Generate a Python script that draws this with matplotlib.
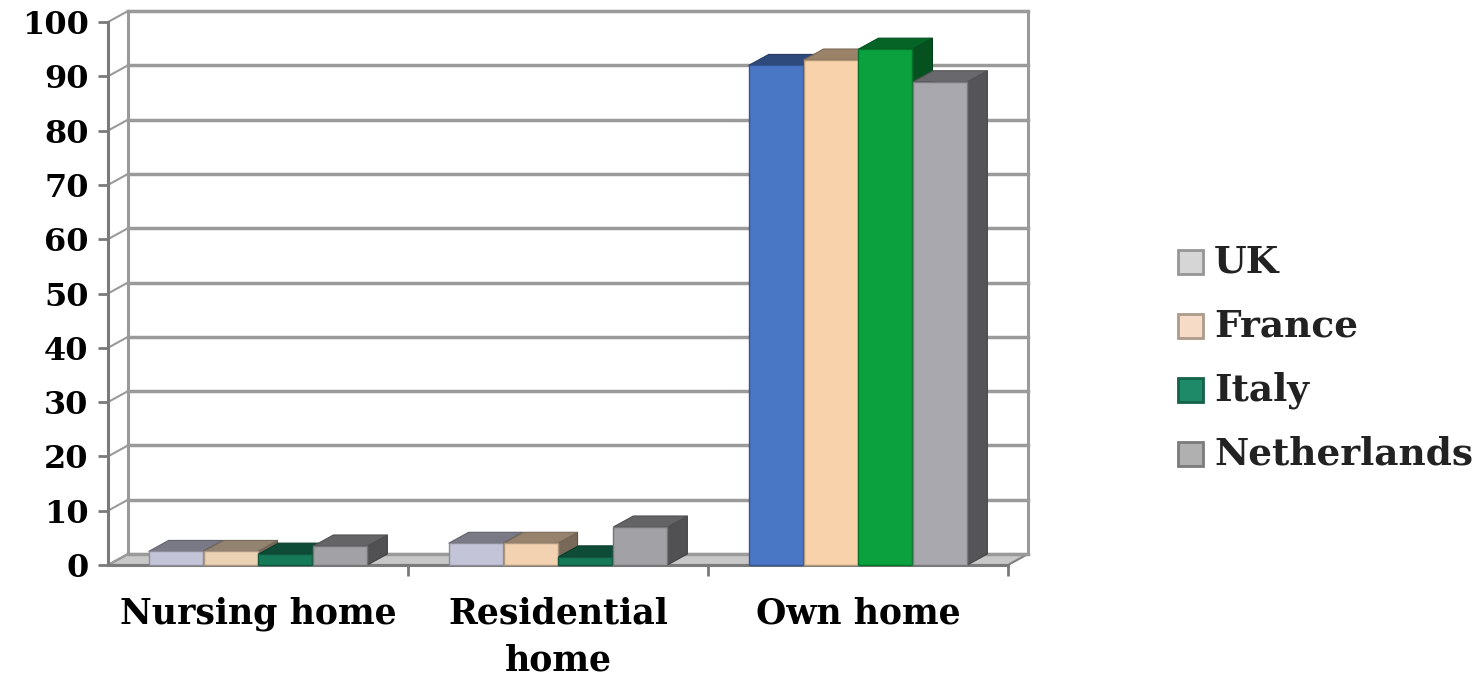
import numpy as np
import matplotlib
matplotlib.use('Agg')
import matplotlib.pyplot as plt
from matplotlib.patches import Polygon, Rectangle
from matplotlib.colors import to_rgb

categories = ['Nursing home', 'Residential\nhome', 'Own home']
countries = ['UK', 'France', 'Italy', 'Netherlands']
uk = [2.5, 4, 92]
france = [2.5, 4, 93]
italy = [2, 1.5, 95]
netherlands = [3.5, 7, 89]
values = [uk, france, italy, netherlands]

# per-bar colours (the own home group was recoloured in the original)
bar_colors = [
    ['#c4c4d8', '#ecd2b4', '#167a58', '#a2a2a6'],
    ['#c4c4d8', '#f2d2b0', '#167a58', '#a2a2a6'],
    ['#4a76c6', '#f8d2aa', '#0aa13e', '#a9a8ae'],
]
legend_colors = ['#d6d6d6', '#f6dcc6', '#1e8a68', '#b0b0b0']
grid_color = '#9a9a9a'

plt.rcParams['font.family'] = 'DejaVu Serif'
plt.rcParams['font.weight'] = 'bold'

def shade(c, f):
    r, g, b = to_rgb(c)
    return (r * f, g * f, b * f)

fig = plt.figure(figsize=(14.84, 6.95), dpi=100)
ax_w, ax_h = 900, 543
ax = fig.add_axes([108 / 1484, 130 / 695, ax_w / 1484, ax_h / 695])
ax.set_xlim(-0.5, 2.5)
ax.set_ylim(0, 100)

# depth of the fake 3d box, in data units
dx = 20 / (ax_w / 3)
dy = 11 / (ax_h / 100)

# back wall and floor
ax.add_patch(Rectangle((-0.5 + dx, dy), 3, 100, facecolor='white', edgecolor=grid_color,
                       lw=2.2, clip_on=False, zorder=0))
ax.add_patch(Polygon([(-0.5, 0), (2.5, 0), (2.5 + dx, dy), (-0.5 + dx, dy)], closed=True,
                     facecolor='#c8c8c8', edgecolor='#808080', lw=1.5, clip_on=False, zorder=1))
for v in range(0, 101, 10):
    ax.plot([-0.5 + dx, 2.5 + dx], [v + dy, v + dy], color=grid_color, lw=2.5,
            clip_on=False, zorder=1)
    ax.plot([-0.5, -0.5 + dx], [v, v + dy], color=grid_color, lw=1.5, clip_on=False, zorder=1)

# bars
w = 0.18
offsets = (np.arange(4) - 1.5) * 0.183
for i in range(len(categories)):
    for j in range(len(countries)):
        c = bar_colors[i][j]
        h = values[j][i]
        x0 = i + offsets[j] - w / 2
        x1 = x0 + w
        z = 3 + i * 10 + j * 2
        ax.add_patch(Polygon([(x1, 0), (x1 + dx, dy), (x1 + dx, h + dy), (x1, h)], closed=True,
                             facecolor=shade(c, 0.5), edgecolor=shade(c, 0.4), lw=0.8,
                             clip_on=False, zorder=z))
        ax.add_patch(Polygon([(x0, h), (x0 + dx, h + dy), (x1 + dx, h + dy), (x1, h)], closed=True,
                             facecolor=shade(c, 0.62), edgecolor=shade(c, 0.5), lw=0.8,
                             clip_on=False, zorder=z))
        ax.bar(i + offsets[j], h, w, color=c, edgecolor=shade(c, 0.72), lw=1.0,
               clip_on=False, zorder=z + 1)

for s in ['top', 'right']:
    ax.spines[s].set_visible(False)
ax.spines['left'].set_color('#7a7a7a')
ax.spines['left'].set_linewidth(2.2)
ax.spines['bottom'].set_color('#7a7a7a')
ax.spines['bottom'].set_linewidth(2.2)
ax.spines['left'].set_zorder(50)

ax.set_yticks(range(0, 101, 10))
ax.tick_params(axis='y', length=7, width=2, color='#7a7a7a', pad=7, labelsize=23)
ax.set_xticks(range(3))
ax.set_xticklabels(categories, fontsize=25, linespacing=1.45)
ax.set_xticks([0.5, 1.5, 2.5], minor=True)
ax.tick_params(axis='x', which='major', length=0, pad=23)
ax.tick_params(axis='x', which='minor', length=8, width=2, color='#7a7a7a')

# legend
for k, name in enumerate(countries):
    yc = (695 - (262 + k * 64)) / 695
    fig.patches.append(Rectangle((1178 / 1484, yc - 12 / 695), 25 / 1484, 24 / 695,
                                 facecolor=legend_colors[k], edgecolor=shade(legend_colors[k], 0.7),
                                 lw=2, transform=fig.transFigure, figure=fig))
    fig.text(1214 / 1484, yc, name, fontsize=27, va='center', ha='left', color='#222222')

fig.savefig('out.png', dpi=100, facecolor='white')
